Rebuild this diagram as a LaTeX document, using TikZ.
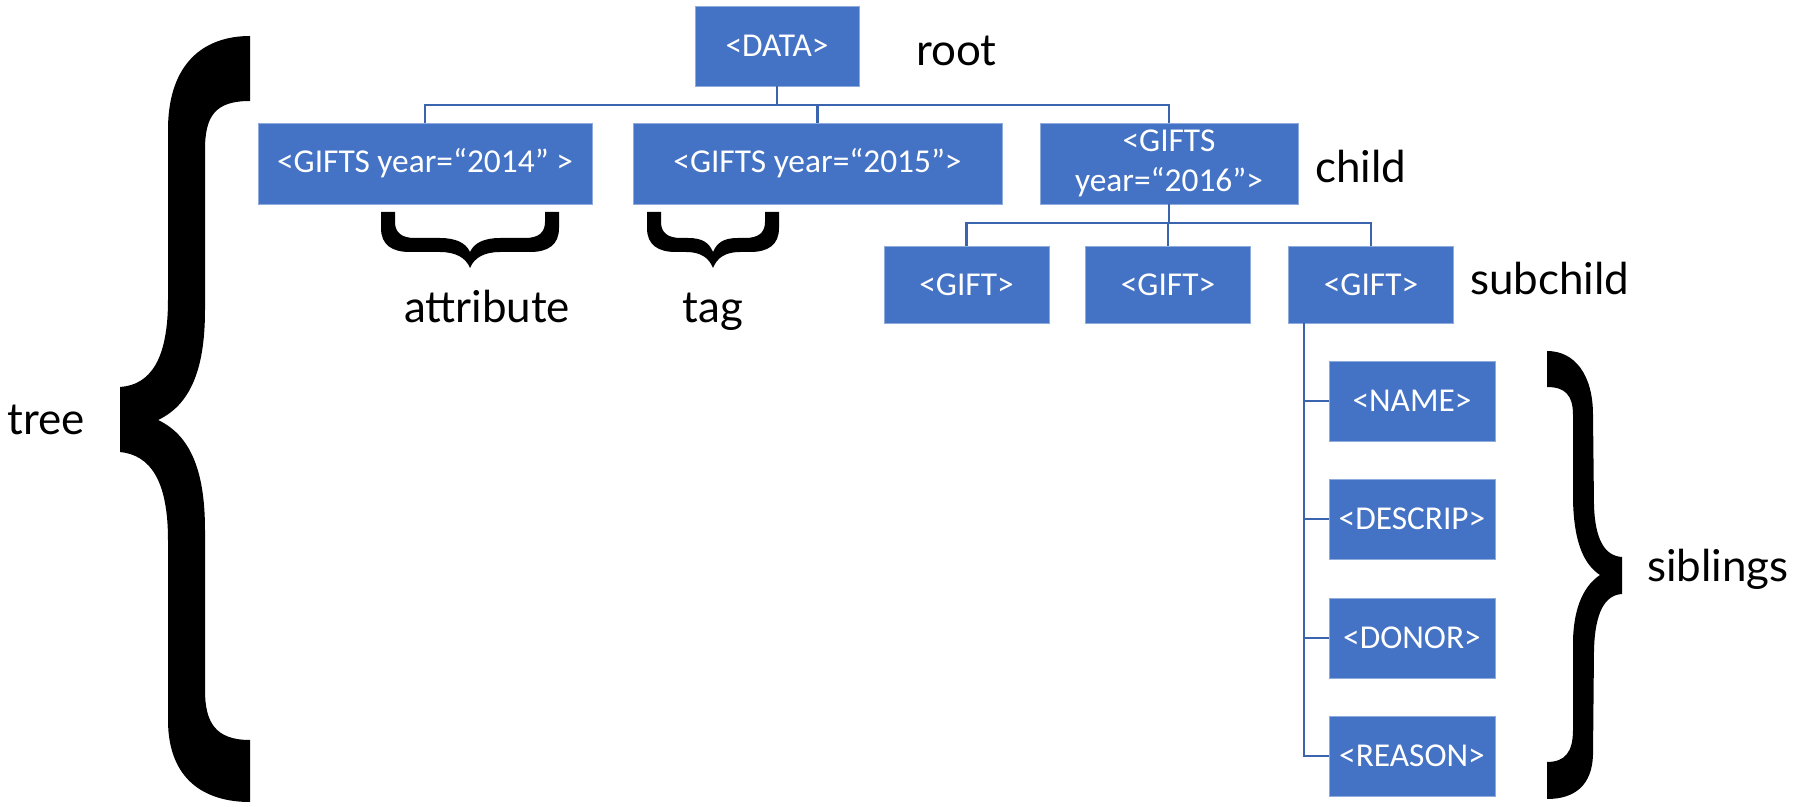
\documentclass[tikz,border=0pt]{standalone}
\usepackage{fontspec}
\setmainfont{Lato}
\newfontfamily\boxfont{Carlito}
\usepackage{tikz}

\definecolor{boxblue}{HTML}{4472C4}
\definecolor{boxedge}{HTML}{8FAADC}
\definecolor{linkblue}{HTML}{3B64AE}

\tikzset{
  box/.style={fill=boxblue, draw=boxedge, line width=0.4pt, text=white,
    font=\boxfont\fontsize{19}{23}\selectfont, inner sep=2pt, align=center},
  link/.style={draw=linkblue, line width=1.2pt},
  lbl/.style={font=\fontsize{25}{28}\selectfont, inner sep=0pt},
}

\begin{document}
\begin{tikzpicture}[x=0.02cm, y=-0.02cm]
  \useasboundingbox (0,0) rectangle (1796,807);

  % root and first level
  \node[box, minimum width=3.28cm, minimum height=1.6cm] (data) at (777,46) {<DATA>};
  \node[box, minimum width=6.68cm, minimum height=1.62cm] (y2014) at (425,163.5) {<GIFTS year=“2014” >};
  \node[box, minimum width=7.38cm, minimum height=1.62cm] (y2015) at (817.5,163.5) {<GIFTS year=“2015”>};
  \node[box, minimum width=5.16cm, minimum height=1.62cm] (y2016) at (1169,163.5) {<GIFTS\\year=“2016”>};

  % second level
  \node[box, minimum width=3.3cm, minimum height=1.54cm] (gift1) at (966.5,284.5) {<GIFT>};
  \node[box, minimum width=3.3cm, minimum height=1.54cm] (gift2) at (1168,284.5) {<GIFT>};
  \node[box, minimum width=3.3cm, minimum height=1.54cm] (gift3) at (1371,284.5) {<GIFT>};

  % siblings under the last gift
  \node[box, minimum width=3.32cm, minimum height=1.6cm] (name) at (1412,401) {<NAME>};
  \node[box, minimum width=3.32cm, minimum height=1.6cm] (descrip) at (1412,519) {<DESCRIP>};
  \node[box, minimum width=3.32cm, minimum height=1.6cm] (donor) at (1412,638) {<DONOR>};
  \node[box, minimum width=3.32cm, minimum height=1.6cm] (reason) at (1412,756) {<REASON>};

  % connectors
  \foreach \c in {y2014,y2015,y2016}
    \draw[link] (data.south) -- ++(0,19) -| (\c.north);
  \foreach \c in {gift1,gift2,gift3}
    \draw[link] (y2016.south) -- ++(0,19) -| (\c.north);
  \coordinate (trunk) at ([xshift=0.32cm]gift3.south west);
  \draw[link] (trunk) |- (reason.west);
  \foreach \s in {name,descrip,donor}
    \draw[link] (trunk |- \s.west) -- (\s.west);

  % labels
  \node[lbl, anchor=base west] (root) at (916,66) {root};
  \node[lbl, anchor=base west] (child) at (1315,183) {child};
  \node[lbl, anchor=base west] (subchild) at (1470,295) {subchild};
  \node[lbl, anchor=base west] (sibl) at (1647,582) {siblings};
  \node[lbl, anchor=base] (attr) at (487,323) {attribute};
  \node[lbl, anchor=base] (tag) at (713,323) {tag};
  \node[lbl, anchor=base] (tree) at (46,435) {tree};

  % big brace round the whole tree
  \fill (250,36) .. controls (205,36) and (168,62) .. (168,130)
    -- (168,300) .. controls (168,360) and (150,385) .. (120,387)
    -- (120,452) .. controls (150,455) and (168,480) .. (168,540)
    -- (168,720) .. controls (168,780) and (205,802) .. (250,802)
    -- (250,740) .. controls (215,740) and (205,722) .. (205,690)
    -- (205,530) .. controls (205,470) and (190,435) .. (158,420)
    .. controls (190,405) and (205,370) .. (205,310)
    -- (205,150) .. controls (205,116) and (215,101) .. (250,101)
    -- cycle;

  % brace round the siblings
  \fill (1547,351) .. controls (1575,351) and (1593,375) .. (1593,415)
    -- (1594,505) .. controls (1595,540) and (1605,556) .. (1622,557)
    -- (1622,594) .. controls (1605,595) and (1595,612) .. (1594,650)
    -- (1593,755) .. controls (1592,785) and (1575,799) .. (1547,799)
    -- (1547,762) .. controls (1565,762) and (1573,752) .. (1573,730)
    -- (1573,640) .. controls (1574,605) and (1585,585) .. (1600,575)
    .. controls (1585,565) and (1574,545) .. (1573,500)
    -- (1573,415) .. controls (1573,395) and (1565,387) .. (1547,387)
    -- cycle;

  % brace under the attribute
  \fill (381,212) -- (395,212) -- (395,222)
    .. controls (395,233) and (402,238) .. (415,238) -- (440,238)
    .. controls (456,238) and (466,243) .. (470,252)
    .. controls (474,243) and (484,238) .. (500,238) -- (525,238)
    .. controls (538,238) and (545,233) .. (545,222)
    -- (545,212) -- (559,212) -- (559,228)
    .. controls (559,245) and (548,252) .. (530,252) -- (500,252)
    .. controls (484,252) and (474,258) .. (470,268)
    .. controls (466,258) and (456,252) .. (440,252) -- (410,252)
    .. controls (392,252) and (381,245) .. (381,228)
    -- cycle;

  % brace under the tag
  \fill (647,212) -- (661,212) -- (661,222)
    .. controls (661,233) and (668,238) .. (681,238) -- (688,238)
    .. controls (703,238) and (709,243) .. (713,252)
    .. controls (717,243) and (723,238) .. (738,238) -- (745,238)
    .. controls (758,238) and (765,233) .. (765,222)
    -- (765,212) -- (779,212) -- (779,228)
    .. controls (779,245) and (768,252) .. (750,252) -- (740,252)
    .. controls (725,252) and (717,258) .. (713,268)
    .. controls (709,258) and (701,252) .. (686,252) -- (676,252)
    .. controls (658,252) and (647,245) .. (647,228)
    -- cycle;
\end{tikzpicture}
\end{document}
